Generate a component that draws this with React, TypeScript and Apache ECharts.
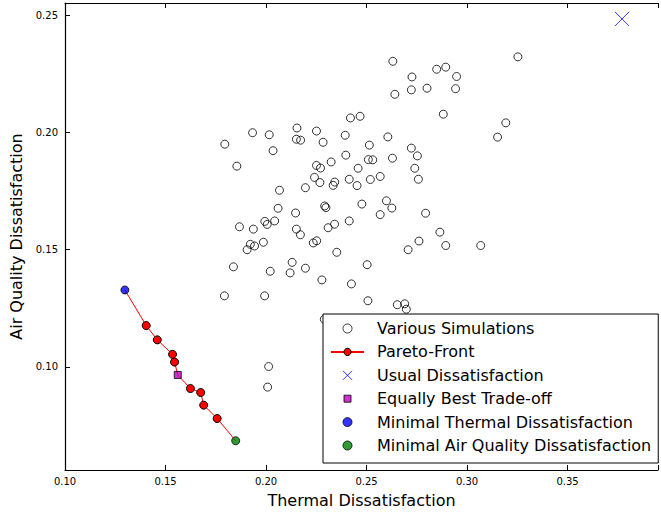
import React, { useEffect, useRef } from "react";
import * as echarts from "echarts";

// Various Simulations (thermal dissatisfaction, air quality dissatisfaction)
const simThermal = [
  0.1795, 0.1933, 0.2016, 0.1855, 0.2035, 0.2154, 0.2151, 0.2172, 0.2251, 0.2284,
  0.2324, 0.2251, 0.2271, 0.2241, 0.2268, 0.2334, 0.2342, 0.2196, 0.2067, 0.206,
  0.2147, 0.2292, 0.2298, 0.1994, 0.2006, 0.2043, 0.1868, 0.1937, 0.2151, 0.2171,
  0.2309, 0.2341, 0.1987, 0.1922, 0.1943, 0.1906, 0.2235, 0.2252, 0.2352, 0.1838,
  0.2021, 0.212, 0.213, 0.2196, 0.2278, 0.1793, 0.1993, 0.2013, 0.2008, 0.2631,
  0.3253, 0.2849, 0.2894, 0.2726, 0.2948, 0.2723, 0.2801, 0.2943, 0.2641, 0.2882,
  0.3193, 0.3152, 0.242, 0.2468, 0.2394, 0.2606, 0.2514, 0.2723, 0.2753, 0.2397,
  0.2509, 0.2531, 0.2629, 0.2458, 0.274, 0.2758, 0.2414, 0.2519, 0.2568, 0.2453,
  0.2477, 0.2599, 0.2626, 0.2568, 0.2794, 0.2414, 0.2865, 0.2761, 0.2707, 0.2894,
  0.3068, 0.2503, 0.2425, 0.2507, 0.2653, 0.269, 0.2698, 0.229,
];
const simAir = [
  0.1951, 0.2, 0.1991, 0.1857, 0.1923, 0.202, 0.1972, 0.1968, 0.2007, 0.1959,
  0.1875, 0.186, 0.1849, 0.1809, 0.1787, 0.1775, 0.1789, 0.1765, 0.1754, 0.1677,
  0.1657, 0.1687, 0.168, 0.1621, 0.1608, 0.1623, 0.1598, 0.1588, 0.1588, 0.1564,
  0.1594, 0.1609, 0.1532, 0.1523, 0.1516, 0.15, 0.1529, 0.1538, 0.1489, 0.1427,
  0.1408, 0.1401, 0.1446, 0.1421, 0.1371, 0.1303, 0.1303, 0.1001, 0.0913, 0.2305,
  0.2324, 0.2271, 0.228, 0.2238, 0.224, 0.2183, 0.219, 0.2188, 0.2164, 0.2079,
  0.2042, 0.1981, 0.2063, 0.207, 0.1989, 0.1982, 0.1947, 0.1934, 0.1901, 0.1904,
  0.1885, 0.1884, 0.1891, 0.1848, 0.1848, 0.1801, 0.1801, 0.18, 0.1813, 0.1774,
  0.1695, 0.1709, 0.1678, 0.165, 0.1656, 0.1623, 0.1575, 0.1537, 0.15, 0.1518,
  0.1518, 0.1436, 0.1354, 0.1282, 0.1265, 0.1269, 0.1246, 0.1203,
];

// Pareto front (red points)
const paretoThermal = [0.1404, 0.1459, 0.1535, 0.1545, 0.1624, 0.1675, 0.169, 0.1757];
const paretoAir = [0.1176, 0.1115, 0.1053, 0.102, 0.0907, 0.089, 0.0836, 0.0779];

// Special points [thermal, air]
const usualPoint = [0.3771, 0.2486];
const tradeOffPoint = [0.1561, 0.0965];
const minThermalPoint = [0.1298, 0.1328];
const minAirPoint = [0.1849, 0.0684];

// Axes
const xMin = 0.1;
const xMax = 0.395;
const yMin = 0.0559;
const yMax = 0.2554;
const tickStep = 0.05;

const seriesNames = [
  "Various Simulations",
  "Pareto-Front",
  "Usual Dissatisfaction",
  "Equally Best Trade-off",
  "Minimal Thermal Dissatisfaction",
  "Minimal Air Quality Dissatisfaction",
];

const FONT = "DejaVu Sans";
const X_SYMBOL = "path://M0 0L10 10M10 0L0 10";
const SQUARE_ICON = "path://M-1 -1M0 0L7 0L7 7L0 7ZM8 8";

const fmt = (v: number) => {
  const k = v / tickStep;
  return Math.abs(k - Math.round(k)) < 1e-6 ? v.toFixed(2) : "";
};

export default function App() {
  const ref = useRef<HTMLDivElement>(null);

  useEffect(() => {
    if (!ref.current) return;
    const chart = echarts.init(ref.current, undefined, { renderer: "svg" });

    const simData = simThermal.map((x, i) => [x, simAir[i]]);

    const frontPoints: any[] = [
      { value: minThermalPoint, symbol: "none" },
      ...paretoThermal.map((x, i) => ({ value: [x, paretoAir[i]] })),
      { value: tradeOffPoint, symbol: "none" },
      { value: minAirPoint, symbol: "none" },
    ].sort((a, b) => a.value[0] - b.value[0]);

    const axisLine = { show: true, onZero: false, lineStyle: { color: "#000", width: 1.2 } };
    const axisTick = { show: true, inside: true, length: 5, lineStyle: { color: "#000", width: 1 } };

    const option: any = {
      animation: false,
      backgroundColor: "#fff",
      grid: { left: 65, right: 1, top: 3, bottom: 44, containLabel: false },
      xAxis: [
        {
          type: "value",
          position: "bottom",
          min: xMin,
          max: xMax,
          splitNumber: 6,
          axisLine,
          axisTick,
          splitLine: { show: false },
          axisLabel: {
            formatter: fmt,
            fontFamily: FONT,
            fontSize: 10,
            color: "#000",
            margin: 6,
          },
          name: "Thermal Dissatisfaction",
          nameLocation: "middle",
          nameGap: 22,
          nameTextStyle: { fontFamily: FONT, fontSize: 16, color: "#000" },
        },
        {
          type: "value",
          position: "top",
          min: xMin,
          max: xMax,
          splitNumber: 6,
          axisLine,
          axisTick,
          splitLine: { show: false },
          axisLabel: { show: false },
        },
      ],
      yAxis: [
        {
          type: "value",
          position: "left",
          min: yMin,
          max: yMax,
          splitNumber: 4,
          axisLine,
          axisTick,
          splitLine: { show: false },
          axisLabel: {
            formatter: fmt,
            fontFamily: FONT,
            fontSize: 10,
            color: "#000",
            margin: 7,
          },
          name: "Air Quality Dissatisfaction",
          nameLocation: "middle",
          nameGap: 35,
          nameTextStyle: { fontFamily: FONT, fontSize: 16, color: "#000" },
        },
      ],
      legend: {
        orient: "vertical",
        left: 323,
        top: 314,
        backgroundColor: "#fff",
        borderColor: "#000",
        borderWidth: 1,
        borderRadius: 0,
        padding: [6, 7, 9, 7],
        itemWidth: 33,
        itemHeight: 9,
        itemGap: 6.4,
        selectedMode: false,
        itemStyle: { borderWidth: 1 },
        textStyle: {
          fontFamily: FONT,
          fontSize: 16,
          color: "#000",
          lineHeight: 17,
          padding: [0, 0, 0, 8],
        },
        data: [
          { name: seriesNames[0] },
          { name: seriesNames[1] },
          { name: seriesNames[2] },
          { name: seriesNames[3], icon: SQUARE_ICON },
          { name: seriesNames[4] },
          { name: seriesNames[5] },
        ],
      },
      series: [
        {
          name: seriesNames[0],
          type: "scatter",
          symbol: "circle",
          symbolSize: 8,
          itemStyle: { color: "rgba(0,0,0,0)", borderColor: "#000", borderWidth: 1 },
          data: simData,
          z: 2,
        },
        {
          name: seriesNames[1],
          type: "line",
          symbol: "circle",
          symbolSize: 8,
          showAllSymbol: true,
          lineStyle: { color: "#ff0000", width: 1 },
          itemStyle: { color: "#ff0000", borderColor: "#000", borderWidth: 1 },
          data: frontPoints,
          z: 3,
        },
        {
          name: seriesNames[2],
          type: "scatter",
          symbol: X_SYMBOL,
          symbolSize: 14,
          itemStyle: { color: "rgba(0,0,0,0)", borderColor: "#0000ff", borderWidth: 1 },
          data: [usualPoint],
          z: 4,
        },
        {
          name: seriesNames[3],
          type: "scatter",
          symbol: "rect",
          symbolSize: 7,
          itemStyle: { color: "#bf00bf", borderColor: "#000", borderWidth: 1 },
          data: [tradeOffPoint],
          z: 4,
        },
        {
          name: seriesNames[4],
          type: "scatter",
          symbol: "circle",
          symbolSize: 8,
          itemStyle: { color: "#0000ff", borderColor: "#000", borderWidth: 1 },
          data: [minThermalPoint],
          z: 4,
        },
        {
          name: seriesNames[5],
          type: "scatter",
          symbol: "circle",
          symbolSize: 8,
          itemStyle: { color: "#008000", borderColor: "#000", borderWidth: 1 },
          data: [minAirPoint],
          z: 4,
        },
      ],
    };

    chart.setOption(option);
    return () => chart.dispose();
  }, []);

  return (
    <div
      ref={ref}
      style={{ position: "absolute", left: 0, top: 0, width: 661, height: 514 }}
    />
  );
}
